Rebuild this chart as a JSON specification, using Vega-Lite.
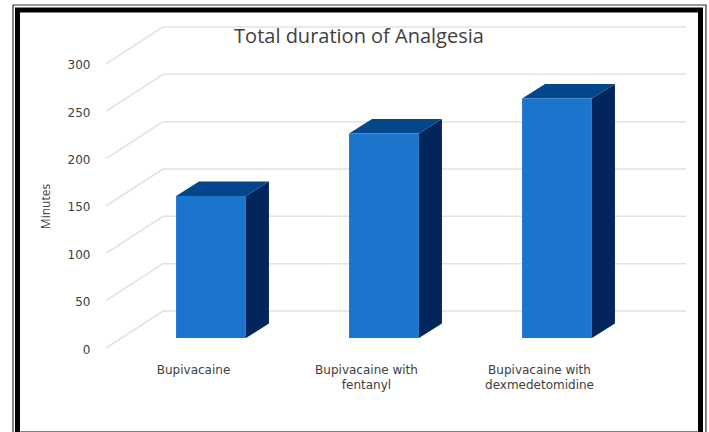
{
"$schema":"https://vega.github.io/schema/vega-lite/v6.json",
"width":683,"height":424,
"padding":{"left":17.5,"top":10,"right":8.5,"bottom":-2},
"autosize":{"type":"none"},
"background":"#ffffff",
"view":{"stroke":"#000000","strokeWidth":5,"fill":"#ffffff"},
"title":{"text":"Total duration of Analgesia","anchor":"middle","frame":"group","offset":-43,"font":"Open Sans","fontSize":20,"fontWeight":"normal","color":"#404040"},
"datasets":{
"bars":[{"label":"Bupivacaine","minutes":150},{"label":"Bupivacaine with fentanyl","minutes":216},{"label":"Bupivacaine with dexmedetomidine","minutes":253}],
"ticks":[{"tick":0},{"tick":50},{"tick":100},{"tick":150},{"tick":200},{"tick":250},{"tick":300}]
},
"layer":[
{"data":{"name":"ticks"},
 "transform":[{"calculate":"datum.tick+39.08","as":"back"}],
 "mark":{"type":"rule","color":"#e2e2e2","strokeWidth":1.5},
 "encoding":{
  "x":{"datum":-0.1734,"type":"quantitative","scale":{"domain":[-1.0145,2.9335],"nice":false,"zero":false},
   "axis":{"title":null,"values":[0,1,2],"domain":false,"ticks":false,"grid":false,"offset":-70,"labelPadding":0,"labelBaseline":"top","labelFont":"DejaVu Sans","labelFontSize":12,"labelColor":"#404040","labelLineHeight":15.5,"labelOverlap":false,"labelBound":false,"labelFlush":false,"labelAngle":0,
   "labelExpr":"datum.value==0?'Bupivacaine':datum.value==1?['Bupivacaine with','fentanyl']:['Bupivacaine with','dexmedetomidine']"}},
  "x2":{"datum":2.8497},
  "y":{"field":"back","type":"quantitative","scale":{"domain":[-90.84,357.03],"nice":false,"zero":false},
   "axis":{"title":"Minutes","values":[0,50,100,150,200,250,300],"domain":false,"ticks":false,"grid":false,"offset":-74.5,"labelPadding":2,"labelOffset":1,"labelFont":"DejaVu Sans","labelFontSize":12,"labelColor":"#404040","titleFont":"Open Sans","titleFontSize":12,"titleFontWeight":"normal","titleColor":"#404040","titleX":-40,"titleY":196}}
 }},
{"data":{"name":"ticks"},
 "transform":[{"calculate":"datum.tick+39.08","as":"back"}],
 "mark":{"type":"rule","color":"#e2e2e2","strokeWidth":1.5},
 "encoding":{
  "x":{"datum":-0.5029,"type":"quantitative"},
  "x2":{"datum":-0.1734},
  "y":{"field":"tick","type":"quantitative"},
  "y2":{"field":"back"}
 }},
{"data":{"name":"bars"},
 "transform":[{"window":[{"op":"row_number","as":"rn"}]},{"calculate":"datum.rn-1","as":"i"},{"calculate":"[0,1]","as":"p"},{"flatten":["p"]},
  {"calculate":"datum.i+0.306+datum.p*0.133","as":"xs"},
  {"calculate":"10.56+datum.p*15.3","as":"lo"},
  {"calculate":"datum.minutes+10.56+datum.p*15.3","as":"hi"}],
 "mark":{"type":"area","color":"#02265c","orient":"vertical"},
 "encoding":{
  "x":{"field":"xs","type":"quantitative"},
  "y":{"field":"hi","type":"quantitative"},
  "y2":{"field":"lo"},
  "detail":{"field":"label"}
 }},
{"data":{"name":"bars"},
 "transform":[{"window":[{"op":"row_number","as":"rn"}]},{"calculate":"datum.rn-1","as":"i"},{"calculate":"[0,1,2,3]","as":"p"},{"flatten":["p"]},
  {"calculate":"datum.i+[-0.098,0.035,0.306,0.439][datum.p]","as":"xs"},
  {"calculate":"datum.minutes+10.56+(datum.p==3?15.3:0)","as":"lo"},
  {"calculate":"datum.minutes+10.56+(datum.p==0?0:15.3)","as":"hi"}],
 "mark":{"type":"area","color":"#04468c","orient":"vertical"},
 "encoding":{
  "x":{"field":"xs","type":"quantitative"},
  "y":{"field":"hi","type":"quantitative"},
  "y2":{"field":"lo"},
  "detail":{"field":"label"}
 }},
{"data":{"name":"bars"},
 "transform":[{"window":[{"op":"row_number","as":"rn"}]},{"calculate":"datum.rn-1","as":"i"},
  {"calculate":"datum.i-0.098","as":"x0"},{"calculate":"datum.i+0.306","as":"x1"},
  {"calculate":"datum.minutes+10.56","as":"top"}],
 "mark":{"type":"rect","color":"#1c75cc"},
 "encoding":{
  "x":{"field":"x0","type":"quantitative"},
  "x2":{"field":"x1"},
  "y":{"field":"top","type":"quantitative"},
  "y2":{"datum":10.56},
  "tooltip":{"field":"minutes","type":"quantitative"}
 }},
{"data":{"values":[{"frame":"outer"}]},
 "mark":{"type":"rect","fill":null,"stroke":"#333333","strokeWidth":1.2,"clip":false},
 "encoding":{
  "x":{"datum":-1.0405,"type":"quantitative"},
  "x2":{"datum":2.965},
  "y":{"datum":362.3,"type":"quantitative"},
  "y2":{"datum":-95}
 }}
]
}
